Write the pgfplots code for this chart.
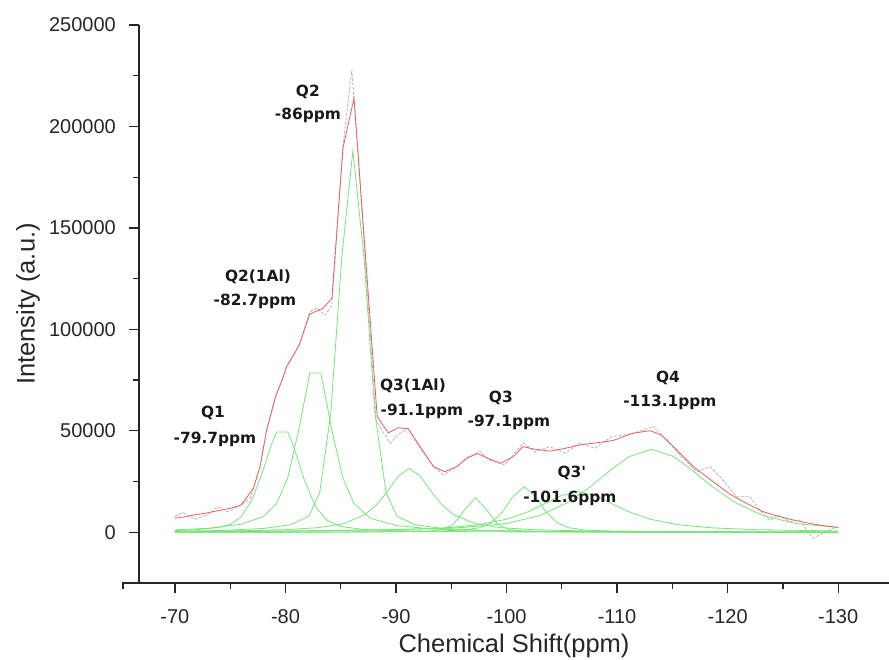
\documentclass[border=0pt]{standalone}
\usepackage{pgfplots}
\pgfplotsset{compat=1.18}
\usepackage{fontspec}
\setmainfont{Liberation Sans}
\newfontfamily\annotfont{DejaVu Sans}
\definecolor{fitred}{RGB}{240,92,92}
\definecolor{compgreen}{RGB}{118,228,118}
\definecolor{expgray}{RGB}{180,180,180}
\begin{document}
\begin{tikzpicture}
\begin{axis}[
  scale only axis, width=750pt, height=558pt,
  x dir=reverse,
  xmin=-134.6, xmax=-66.75,
  ymin=-25000, ymax=250000,
  axis x line*=bottom, axis y line*=left,
  axis line style={line width=1.3pt, color=black!85},
  clip=false,
  scaled ticks=false,
  xtick={-70,-80,-90,-100,-110,-120,-130},
  xticklabels={-70,-80,-90,-100,-110,-120,-130},
  minor xtick={-75,-85,-95,-105,-115,-125},
  ytick={0,50000,100000,150000,200000,250000},
  yticklabels={0,50000,100000,150000,200000,250000},
  minor ytick={25000,75000,125000,175000,225000},
  tick align=outside,
  major tick length=10pt, minor tick length=6pt,
  every tick/.style={line width=1.3pt, color=black!85},
  tick label style={font=\fontsize{20}{24}\selectfont, color=black!85, inner sep=0pt},
  xticklabel style={anchor=base, yshift=-30pt},
  yticklabel style={anchor=east, xshift=-13pt},
  xlabel={Chemical Shift(ppm)},
  ylabel={Intensity (a.u.)},
  label style={font=\fontsize{25.5}{30}\selectfont, color=black!85},
  xlabel style={at={(axis description cs:0.5,-0.113)}, anchor=center},
  ylabel style={at={(axis description cs:-0.148,0.5)}, anchor=center},
  every axis plot/.append style={line width=0.8pt, mark=none},
]
% experimental spectrum
\addplot[color=expgray, dash pattern=on 3pt off 1.5pt] coordinates {
(-70,7700) (-70.75,9660) (-71.8,6400) (-72.9,8525) (-73.9,12620) (-74.8,10150) (-76,13450) (-76.8,16750) (-77.1,21680) (-77.7,32330) (-78.3,50400) (-79.1,66830) (-79.7,75050) (-80.1,81600) (-81,89840) (-81.3,93140) (-82.2,108700) (-82.8,110400) (-83.6,107000) (-84.2,112000) (-85.2,190000) (-86,227800) (-86.5,192000) (-88.2,55340) (-89.45,43860) (-90.35,48790) (-91.1,51250) (-92.3,40560) (-93.4,32330) (-94.3,28240) (-95.5,32330) (-96.5,37260) (-97.6,39720) (-98.5,35460) (-99.85,33170) (-100.6,38100) (-101.5,44000) (-102.6,39720) (-103.9,42180) (-105.3,38930) (-106.6,43860) (-108,41400) (-109.5,47110) (-110.6,47950) (-111.6,49000) (-113.3,52040) (-114.5,45490) (-115.7,38000) (-117.2,29860) (-118.4,32330) (-119.3,27400) (-120.8,17540) (-122,17540) (-122.9,11000) (-123.8,6060) (-124.6,8525) (-125.6,5220) (-126.5,6000) (-127.7,-2960) (-128.6,-490) (-129.5,1970) (-130,2500)
};
% Q1
\addplot[color=compgreen] coordinates {
(-70,848) (-72,1315) (-74,2390) (-75,3870) (-76,7620) (-77,16210) (-78,30990) (-78.7,42880) (-79.2,49450) (-80.2,49450) (-80.7,42880) (-81.7,26000) (-82.7,12950) (-83.7,6110) (-85,2830) (-87,1450) (-90,756) (-95,350) (-100,200) (-110,90) (-120,51) (-130,33)
};
% Q2(1Al)
\addplot[color=compgreen] coordinates {
(-70,1160) (-73,1960) (-76,3960) (-78,7750) (-79.2,14130) (-80.2,26700) (-81.2,50280) (-82.2,78480) (-83.2,78480) (-84.2,50280) (-85.2,26700) (-86.2,14130) (-87.7,6860) (-90,3370) (-93,1740) (-97,917) (-102,507) (-110,255) (-120,137) (-130,85)
};
% Q2
\addplot[color=compgreen] coordinates {
(-70,485) (-74,854) (-78,1870) (-80.5,3770) (-82.1,7900) (-83.1,19500) (-84.1,58660) (-85.1,135800) (-86.1,188000) (-87.1,135800) (-88.1,58660) (-89.1,19500) (-90.1,7900) (-91.7,3770) (-94.2,1870) (-98.2,854) (-104,393) (-112,188) (-121,104) (-130,66)
};
% Q3(1Al)
\addplot[color=compgreen] coordinates {
(-70,373) (-76,716) (-80,1290) (-83,2300) (-85.2,4140) (-87.2,8710) (-88.2,13310) (-89.2,20000) (-90.2,27640) (-91.2,31500) (-92.2,27640) (-93.2,20000) (-94.2,13310) (-95.2,8710) (-97.2,4140) (-99.4,2300) (-102.4,1290) (-107,664) (-115,297) (-130,113)
};
% Q3
\addplot[color=compgreen] coordinates {
(-70,16) (-80,39) (-88,133) (-92.7,524) (-94.2,1330) (-95.2,4000) (-96.2,11040) (-97.2,17000) (-98.2,11040) (-99.2,4000) (-100.2,1330) (-101.7,524) (-104.2,227) (-109.2,79) (-117.2,29) (-130,11)
};
% Q3'
\addplot[color=compgreen] coordinates {
(-70,36) (-80,78) (-89.6,248) (-93.6,542) (-96.1,1107) (-97.6,2260) (-98.6,4620) (-99.6,9810) (-100.6,17680) (-101.6,22500) (-102.6,17680) (-103.6,9810) (-104.6,4620) (-105.6,2260) (-107.1,1107) (-109.6,542) (-113.6,248) (-119.6,111) (-130,45)
};
% broad component
\addplot[color=compgreen] coordinates {
(-70,266) (-80,497) (-90.5,1300) (-94.5,2200) (-97.5,3730) (-100,6420) (-102,10230) (-103.5,14160) (-105,18160) (-106.5,20000) (-108,18160) (-109.5,14160) (-111,10230) (-113,6420) (-115.5,3730) (-118.5,2200) (-122.5,1300) (-130,627)
};
% Q4
\addplot[color=compgreen] coordinates {
(-70,389) (-80,650) (-90,1293) (-96,2315) (-100,4300) (-103,8200) (-105.6,14910) (-107.6,22530) (-109.6,31410) (-111.1,37340) (-113.1,40900) (-115.1,37340) (-116.6,31410) (-118.6,22530) (-120.6,14910) (-123.2,8200) (-126.2,4300) (-130,2375)
};
% cumulative fit
\addplot[color=fitred] coordinates {
(-70,6900) (-71,7700) (-71.7,8525) (-73,9600) (-73.9,10650) (-75,11800) (-76,13450) (-77.1,21680) (-77.7,32330) (-78.3,50400) (-79.1,66830) (-79.7,75050) (-80.1,81600) (-81,89840) (-81.3,93140) (-82.2,107500) (-83.4,110400) (-84.2,115300) (-85.2,189200) (-86.2,213900) (-88.3,57000) (-89.3,49000) (-90.2,51500) (-91.1,51000) (-92.2,42000) (-93.4,32330) (-94.4,29860) (-95.5,32330) (-96.4,36470) (-97.4,38800) (-98.5,35970) (-99.5,34000) (-100.6,37260) (-101.5,42180) (-102.5,41000) (-103.9,40000) (-105,41000) (-106.6,43020) (-108,44000) (-109.6,45140) (-111.4,48790) (-113,50070) (-114,47950) (-115.4,40560) (-116.9,32330) (-118.7,24900) (-120.2,18800) (-121.7,14290) (-123.2,10150) (-124.7,7690) (-126.2,5720) (-127.7,4090) (-129,3000) (-130,2400)
};
% x axis line stub left of the y axis
\draw[line width=1.3pt, color=black!85] (axis cs:-66.75,-25000) -- ++(-16pt,0pt) -- ++(0pt,-6pt);
% annotations
\begin{scope}[every node/.style={font=\annotfont\bfseries\fontsize{15.4}{18}\selectfont, anchor=base, inner sep=0pt, color=black!90}]
\node at (axis cs:-82.03,215000) {Q2};
\node at (axis cs:-82.03,203670) {-86ppm};
\node at (axis cs:-77.51,123350) {Q2(1Al)};
\node at (axis cs:-77.24,111520) {-82.7ppm};
\node at (axis cs:-73.44,56330) {Q1};
\node at (axis cs:-73.62,43515) {-79.7ppm};
\node at (axis cs:-91.53,69630) {Q3(1Al)};
\node at (axis cs:-92.34,57310) {-91.1ppm};
\node at (axis cs:-99.49,63720) {Q3};
\node at (axis cs:-100.21,51890) {-97.1ppm};
\node at (axis cs:-105.91,26760) {Q3'};
\node at (axis cs:-105.73,14440) {-101.6ppm};
\node at (axis cs:-114.6,73575) {Q4};
\node at (axis cs:-114.78,61750) {-113.1ppm};
\end{scope}
\end{axis}
\pgfresetboundingbox
\path (-139pt,-76pt) rectangle (750pt,583pt);
\end{tikzpicture}
\end{document}
